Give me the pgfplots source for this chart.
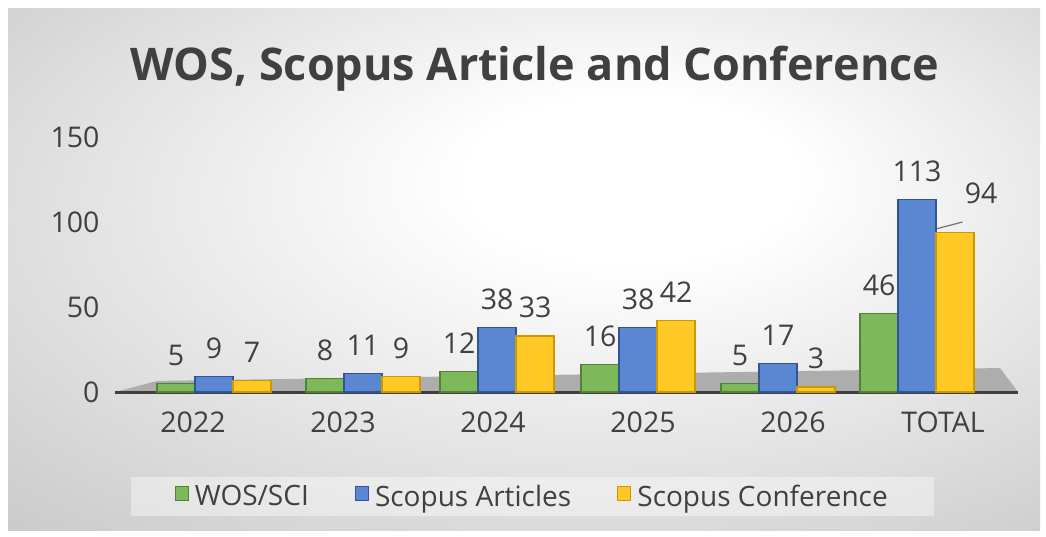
\documentclass[border=0pt]{standalone}
\usepackage{pgfplots}
\pgfplotsset{compat=1.18}
\usepackage{fontspec}
\setmainfont{Open Sans}
\definecolor{txt}{HTML}{404040}
\definecolor{cgreen}{HTML}{7DB85A}
\definecolor{cgreenE}{HTML}{548235}
\definecolor{cblue}{HTML}{5B87D2}
\definecolor{cblueE}{HTML}{2F5597}
\definecolor{cyel}{HTML}{FFC824}
\definecolor{cyelE}{HTML}{C99A00}
\pgfdeclareradialshading{bgshade}{\pgfpoint{6bp}{10bp}}{color(0bp)=(white); color(8bp)=(white); color(40bp)=(black!21); color(60bp)=(black!24)}
\begin{document}
\begin{tikzpicture}[x=1pt,y=1pt]
\useasboundingbox (0,0) rectangle (1046,536);
\fill[white] (0,0) rectangle (1046,536);
\shade[shading=bgshade] (8,6) rectangle (1040,527);
\node[font=\bfseries\fontsize{45}{50}\selectfont, text=txt] at (535,467) {WOS, Scopus Article and Conference};
\begin{axis}[
  at={(115pt,144pt)}, anchor=south west,
  scale only axis, width=903pt, height=255pt,
  xmin=-0.52, xmax=5.5, ymin=0, ymax=150,
  clip=false,
  axis line style={draw=none},
  axis x line*=bottom,
  xtick={0,1,2,3,4,5},
  xticklabels={2022,2023,2024,2025,2026,TOTAL},
  ytick={0,50,100,150},
  tick style={draw=none},
  ticklabel style={font=\fontsize{28.5}{32}\selectfont, text=txt},
  /pgf/number format/assume math mode=true,
  xticklabel style={yshift=-12pt},
  yticklabel style={xshift=-12pt},
  ybar=0pt, bar width=38pt,
  nodes near coords,
  every node near coord/.append style={font=\fontsize{28.5}{32}\selectfont, text=txt, yshift=14pt},
  legend style={at={(0.462,-0.41)}, anchor=center, legend columns=3, draw=none, fill=white, fill opacity=0.4, text opacity=1,
    font=\fontsize{28}{32}\selectfont, text=txt, inner xsep=44pt, inner ysep=6pt,
    /tikz/every even column/.append style={column sep=44pt},
    /tikz/every odd column/.append style={column sep=4pt}},
  legend image code/.code={\draw[#1, line width=1.2pt, fill opacity=1, draw opacity=1] (0pt,-4pt) rectangle (13pt,10pt);},
]
\fill[black!32] (axis cs:-0.52,0) -- (axis cs:-0.24,6.5) -- (axis cs:5.38,14.1) -- (axis cs:5.5,0) -- cycle;
\draw[txt, line width=3pt] (axis cs:-0.52,0) -- (axis cs:5.5,0);
\draw[black!55, line width=1.2pt] (axis cs:4.87,94) -- (axis cs:5.13,100);
\addplot[fill=cgreen, draw=cgreenE, line width=1.2pt] coordinates {(0.14,5) (1.133,8) (2.027,12) (2.967,16) (3.9,5) (4.827,46)};
\addplot[fill=cblue, draw=cblueE, line width=1.2pt] coordinates {(0.14,9) (1.133,11) (2.027,38) (2.967,38) (3.9,17) (4.827,113)};
\addplot[fill=cyel, draw=cyelE, line width=1.2pt,
  visualization depends on={value \thisrow{dx} \as \dx},
  visualization depends on={value \thisrow{dy} \as \dy},
  every node near coord/.append style={xshift=\dx pt, yshift=\dy pt}] table {
x y dx dy
0.14 7 0 0
1.133 9 0 0
2.027 33 0 0
2.967 42 0 0
3.9 3 0 0
4.827 94 26 10
};
\legend{WOS/SCI, Scopus Articles, Scopus Conference}
\end{axis}
\end{tikzpicture}
\end{document}
